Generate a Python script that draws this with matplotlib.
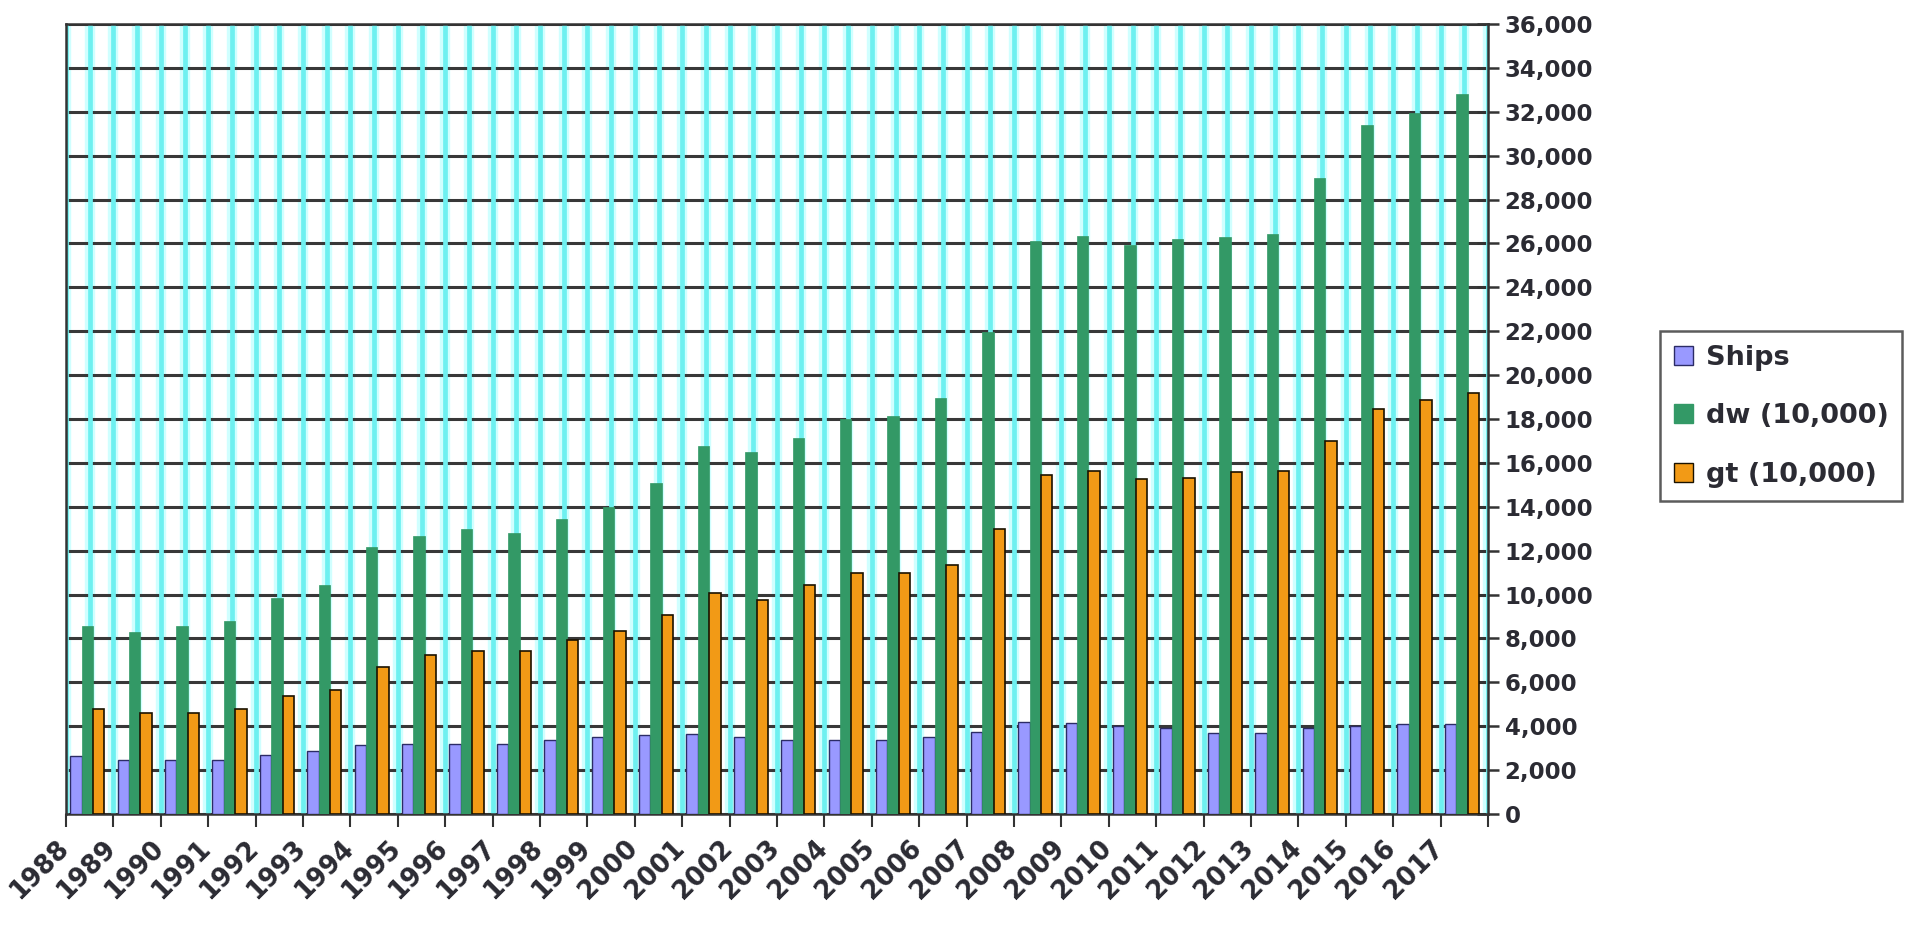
import matplotlib
matplotlib.use("Agg")
import matplotlib.pyplot as plt
import matplotlib.transforms as mtrans
import numpy as np
from matplotlib.patches import Patch
from matplotlib.ticker import FuncFormatter, MultipleLocator

years = [str(y) for y in range(1988, 2018)]
ships = [2650, 2450, 2450, 2450, 2700, 2850, 3150, 3200, 3200, 3200,
         3350, 3500, 3600, 3650, 3500, 3350, 3350, 3350, 3500, 3750,
         4200, 4150, 4000, 3900, 3700, 3700, 3900, 4000, 4100, 4100]
dw = [8550, 8300, 8550, 8800, 9850, 10450, 12150, 12650, 13000, 12800,
      13450, 14000, 15100, 16750, 16500, 17150, 18000, 18150, 18950, 21950,
      26100, 26350, 25950, 26200, 26300, 26450, 29000, 31400, 31950, 32800]
gt = [4800, 4600, 4600, 4800, 5400, 5650, 6700, 7250, 7450, 7450,
      7950, 8350, 9050, 10050, 9750, 10450, 11000, 11000, 11350, 13000,
      15450, 15650, 15250, 15300, 15600, 15650, 17000, 18450, 18850, 19200]
series_names = ["Ships", "dw (10,000)", "gt (10,000)"]

c_ships = "#9999FF"
c_dw = "#339966"
c_gt = "#F29A16"
txt = "#2b2b33"

fig = plt.figure(figsize=(19.07, 9.30), dpi=100)
ax = fig.add_axes([66/1907, 116/930, 1422/1907, 790/930])

n = len(years)
x = np.arange(n)
w = 0.24

# background cyan stripes
for xv in np.arange(0, n + 0.01, 0.5):
    ax.axvline(xv, color="#D0FFFF", lw=7.5, zorder=0.5)
    ax.axvline(xv, color="#6EF0F0", lw=3.4, zorder=0.6)

ax.set_ylim(0, 36000)
ax.yaxis.set_major_locator(MultipleLocator(2000))
ax.yaxis.grid(True, color="#383838", lw=2.2, zorder=1)
ax.set_axisbelow(True)

ax.bar(x + 0.21, ships, width=w, color=c_ships, edgecolor="#2c2c66", lw=1.0, zorder=3)
ax.bar(x + 0.45, dw, width=w, color=c_dw, edgecolor=c_dw, lw=0.5, zorder=3)
ax.bar(x + 0.69, gt, width=w, color=c_gt, edgecolor="#1a1200", lw=1.2, zorder=3)

for s in ax.spines.values():
    s.set_color("#333333")
    s.set_linewidth(1.8)

ax.yaxis.tick_right()
ax.yaxis.set_major_formatter(FuncFormatter(lambda v, p: f"{int(v):,}"))
ax.tick_params(axis="y", which="major", direction="inout", length=16, width=1.8,
               color="#333333", labelsize=16.5, labelcolor=txt, pad=4)
for lab in ax.get_yticklabels():
    lab.set_fontweight("bold")

ax.set_xticks(np.arange(0, n + 1), minor=True)
ax.tick_params(axis="x", which="minor", direction="out", length=9, width=1.5, color="#333333")
ax.set_xticks(x + 0.5)
ax.set_xticklabels(years, rotation=45, ha="right", rotation_mode="anchor",
                   fontsize=18.5, fontweight="bold", color=txt)
ax.tick_params(axis="x", which="major", length=0, pad=15)
ax.set_xlim(0, n)
shift = mtrans.ScaledTranslation(-0.34, 0, fig.dpi_scale_trans)
for lab in ax.get_xticklabels():
    lab.set_transform(lab.get_transform() + shift)

handles = [Patch(facecolor=c_ships, edgecolor="#2c2c66", lw=1.0),
           Patch(facecolor=c_dw, edgecolor=c_dw),
           Patch(facecolor=c_gt, edgecolor="#1a1200", lw=1.0)]
leg = fig.legend(handles, series_names, loc="upper left",
                 bbox_to_anchor=(1660/1907, 1 - 331/930),
                 prop={"weight": "bold", "size": 19.5}, labelcolor=txt,
                 frameon=True, fancybox=False, edgecolor="#333333",
                 handlelength=0.7, handleheight=0.7, handletextpad=0.5,
                 labelspacing=1.2, borderpad=0.5, borderaxespad=0)
leg.get_frame().set_linewidth(1.8)

fig.savefig("out.png", dpi=100, facecolor="white")
